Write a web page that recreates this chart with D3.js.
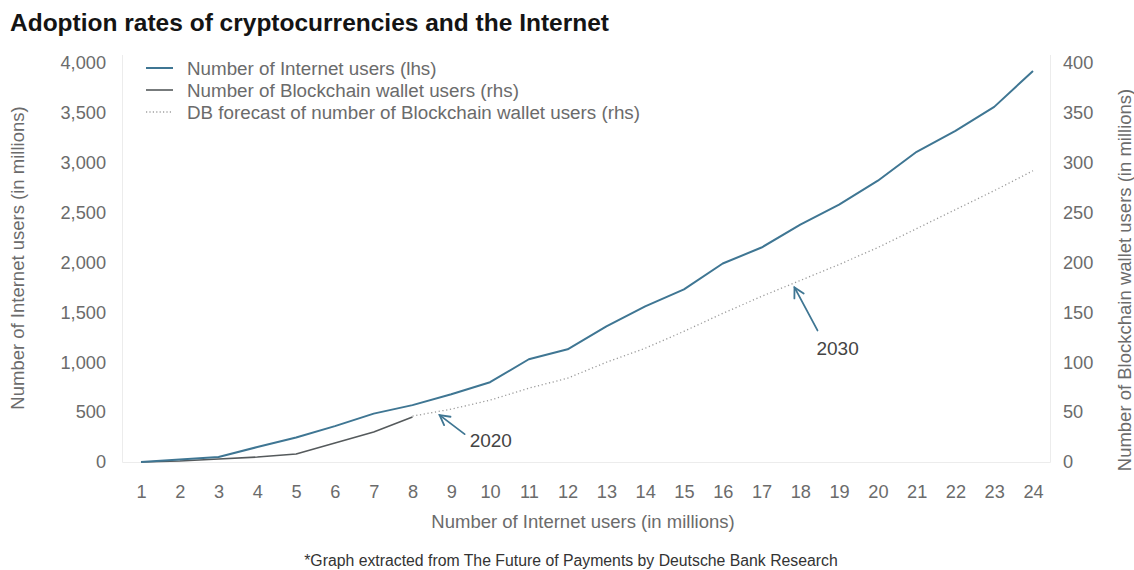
<!DOCTYPE html>
<html>
<head>
<meta charset="utf-8">
<script src="https://cdn.jsdelivr.net/npm/d3@7"></script>
<style>
  html, body { margin: 0; padding: 0; background: #fff; }
  svg { display: block; font-family: "Liberation Sans", Arial, Helvetica, sans-serif; }
</style>
</head>
<body>
<svg id="chart" width="1134" height="570"></svg>
<script>
// Period index along the x axis
const periods = d3.range(1, 25);

// Number of Internet users, millions (left axis)
const internetUsers = [0, 25, 50, 150, 245, 360, 485, 570, 680, 800, 1030, 1130,
                       1360, 1560, 1730, 1990, 2150, 2380, 2580, 2820, 3110, 3320, 3560, 3920];

// Blockchain wallet users, millions (right axis) – actuals for periods 1..8
const walletPeriods = [1, 2, 3, 4, 5, 6, 7, 8];
const walletUsers = [0, 1, 3, 5, 8, 19, 30, 45];

// DB forecast of Blockchain wallet users, millions (right axis) – periods 8..24
const forecastPeriods = d3.range(8, 25);
const forecastUsers = [46, 53, 62, 74, 84, 100, 114, 131, 149, 166, 182, 198, 215, 234, 253, 272, 292];

// Tick values
const leftTicks = [0, 500, 1000, 1500, 2000, 2500, 3000, 3500, 4000];
const rightTicks = [0, 50, 100, 150, 200, 250, 300, 350, 400];

// Year call-outs on the forecast line (period, rhs value)
const calloutLabels = ["2020", "2030"];
const calloutPeriods = [8.7, 17.85];
const calloutValues = [47, 175];

const svg = d3.select("#chart");

const plot = { left: 122, right: 1050, top: 55, bottom: 462 };
const x = d3.scaleLinear().domain([1, 24]).range([141, 1033]);
const yL = d3.scaleLinear().domain([0, 4000]).range([462, 63]);
const yR = d3.scaleLinear().domain([0, 400]).range([462, 63]);

const textGrey = "#6b6b6b";
const blue = "#3f7693";
const dark = "#555a5c";
const tickSize = 18.2;
const labelSize = 18.5;
const legendSize = 18.8;

// Title
svg.append("text")
  .attr("x", 10).attr("y", 31)
  .attr("font-size", 24.5).attr("font-weight", "bold")
  .attr("fill", "#141414")
  .text("Adoption rates of cryptocurrencies and the Internet");

// Frame: faint left, bottom and right rules
const frame = svg.append("g").attr("stroke", "#ececec").attr("stroke-width", 1).attr("fill", "none");
frame.append("path")
  .attr("d", `M${plot.left + 0.5},${plot.top}V${plot.bottom + 0.5}H${plot.right + 0.5}V${plot.top}`);

// Left axis
const axL = svg.append("g")
  .attr("transform", `translate(${plot.left - 16},0)`)
  .call(d3.axisLeft(yL).tickValues(leftTicks).tickSize(0).tickPadding(0).tickFormat(d3.format(",")));
axL.select(".domain").remove();
axL.selectAll("text").attr("font-size", tickSize).attr("fill", textGrey).attr("font-family", null);

// Right axis
const axR = svg.append("g")
  .attr("transform", `translate(${plot.right + 13},0)`)
  .call(d3.axisRight(yR).tickValues(rightTicks).tickSize(0).tickPadding(0));
axR.select(".domain").remove();
axR.selectAll("text").attr("font-size", tickSize).attr("fill", textGrey).attr("font-family", null);

// Bottom axis
const axB = svg.append("g")
  .attr("transform", `translate(0,${plot.bottom + 23})`)
  .call(d3.axisBottom(x).tickValues(periods).tickSize(0).tickPadding(0).tickFormat(d3.format("d")));
axB.select(".domain").remove();
axB.selectAll("text").attr("font-size", tickSize).attr("fill", textGrey).attr("font-family", null);

// Axis titles
svg.append("text")
  .attr("transform", "translate(24,258) rotate(-90)")
  .attr("text-anchor", "middle").attr("font-size", labelSize).attr("fill", textGrey)
  .text("Number of Internet users (in millions)");
svg.append("text")
  .attr("transform", "translate(1131,280) rotate(-90)")
  .attr("text-anchor", "middle").attr("font-size", labelSize).attr("fill", textGrey)
  .text("Number of Blockchain wallet users (in millions)");
svg.append("text")
  .attr("x", 583).attr("y", 528)
  .attr("text-anchor", "middle").attr("font-size", labelSize).attr("fill", textGrey)
  .text("Number of Internet users (in millions)");

// Source note
svg.append("text")
  .attr("x", 571).attr("y", 566)
  .attr("text-anchor", "middle").attr("font-size", 15.8).attr("fill", "#333")
  .text("*Graph extracted from The Future of Payments by Deutsche Bank Research");

// Series
const lineL = d3.line().x(d => x(d[0])).y(d => yL(d[1]));
const lineR = d3.line().x(d => x(d[0])).y(d => yR(d[1]));

svg.append("path")
  .datum(d3.zip(forecastPeriods, forecastUsers))
  .attr("d", lineR)
  .attr("fill", "none").attr("stroke", "#9a9a9a").attr("stroke-width", 1.3)
  .attr("stroke-dasharray", "1.2,2.6");

svg.append("path")
  .datum(d3.zip(walletPeriods, walletUsers))
  .attr("d", lineR)
  .attr("fill", "none").attr("stroke", dark).attr("stroke-width", 1.6)
  .attr("stroke-linejoin", "round");

svg.append("path")
  .datum(d3.zip(periods, internetUsers))
  .attr("d", lineL)
  .attr("fill", "none").attr("stroke", blue).attr("stroke-width", 2)
  .attr("stroke-linejoin", "round");

// Year call-outs: arrow pointing at the forecast line plus its label
const tails = [[25, 19], [23, 43]];
const labelOffsets = [[30, 32], [22, 68]];
calloutLabels.forEach((label, i) => {
  const tx = x(calloutPeriods[i]);
  const ty = yR(calloutValues[i]);
  const sx = tx + tails[i][0];
  const sy = ty + tails[i][1];
  const ang = Math.atan2(sy - ty, sx - tx);
  const head = 11;
  const spread = 0.5;
  const g = svg.append("g").attr("stroke", blue).attr("stroke-width", 1.8).attr("fill", "none")
    .attr("stroke-linecap", "round");
  g.append("line").attr("x1", sx).attr("y1", sy).attr("x2", tx).attr("y2", ty);
  g.append("path")
    .attr("d", `M${tx + head * Math.cos(ang - spread)},${ty + head * Math.sin(ang - spread)}` +
               `L${tx},${ty}` +
               `L${tx + head * Math.cos(ang + spread)},${ty + head * Math.sin(ang + spread)}`);
  svg.append("text")
    .attr("x", tx + labelOffsets[i][0]).attr("y", ty + labelOffsets[i][1])
    .attr("font-size", 19).attr("fill", "#444")
    .text(label);
});

// Legend
const legendItems = [
  { label: "Number of Internet users (lhs)", color: blue, width: 2, dash: null },
  { label: "Number of Blockchain wallet users (rhs)", color: dark, width: 1.6, dash: null },
  { label: "DB forecast of number of Blockchain wallet users (rhs)", color: "#a0a0a0", width: 1.3, dash: "1.2,2.2" }
];
const legend = svg.append("g").attr("transform", "translate(146,68)");
legendItems.forEach((it, i) => {
  const row = legend.append("g").attr("transform", `translate(0,${i * 22})`);
  row.append("line").attr("x1", 0).attr("x2", 27).attr("y1", 0).attr("y2", 0)
    .attr("stroke", it.color).attr("stroke-width", it.width)
    .attr("stroke-dasharray", it.dash);
  row.append("text").attr("x", 41).attr("y", 6.6)
    .attr("font-size", legendSize).attr("fill", textGrey)
    .text(it.label);
});
</script>
</body>
</html>
